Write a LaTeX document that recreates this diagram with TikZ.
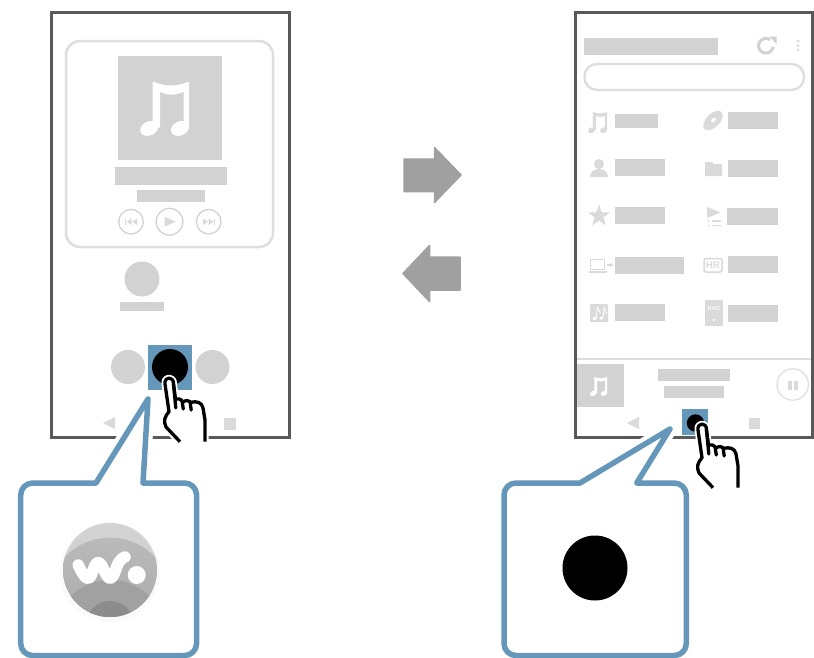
\documentclass[tikz,border=0pt]{standalone}
\usepackage{fontspec}
\setmainfont{Liberation Sans}
\definecolor{frameC}{HTML}{595959}
\definecolor{barC}{HTML}{D2D2D2}
\definecolor{iconC}{HTML}{DADADA}
\definecolor{lineC}{HTML}{DEDEDE}
\definecolor{blueC}{HTML}{6497B9}
\definecolor{arrowC}{HTML}{A0A0A0}
\tikzset{
  phone/.style={draw=frameC,line width=3pt,fill=white},
  bar/.style={fill=barC},
  icon/.style={fill=iconC},
  ctl/.style={draw=barC,line width=1.3pt,fill=white},
  bigarrow/.style={fill=arrowC,draw=arrowC,line width=1.5pt,line join=round},
  callout/.style={draw=blueC,line width=5.5pt,line join=round,fill=white},
  halo/.style={draw=white,line width=14pt,line join=round,fill=white},
  noteicon/.pic={
    \fill[pic actions,line join=round] (13.5,0) .. controls (24,5) and (38,5) .. (48,0) -- (49,1) -- (49,46) -- (43.5,46) -- (43.5,10) .. controls (36,14) and (28,14) .. (20,10) -- (20,46) -- (12.5,46) -- (12.5,1) -- cycle;
    \fill[pic actions] (9.3,46.7) ellipse [x radius=9.5,y radius=7,rotate=25];
    \fill[pic actions] (40,46.7) ellipse [x radius=9.5,y radius=7,rotate=25];
  },
  handicon/.pic={
    \path[draw=white,line width=7pt,fill=white,line join=round]
      (180,441.7) -- (165,427) .. controls (163,421) and (165,416) .. (169,411.7) -- (165,384) .. controls (164,376) and (174,376) .. (173.5,384) -- (175.5,399)
      .. controls (178,398) and (181,399) .. (183,402) .. controls (186,400) and (189,400) .. (191,402.3) .. controls (196,401) and (202,402) .. (203,408) -- (205,420) -- (205,441.7) -- cycle;
    \draw[black,line width=3.3pt,line join=round,fill=white]
      (180,441.7) -- (166,427) .. controls (163,421) and (165,416) .. (169,411.7) -- (165,384) .. controls (164,376) and (174,376) .. (173.5,384) -- (175.5,399)
      .. controls (178,398) and (181,399) .. (183,402) .. controls (186,400) and (189,400) .. (191,402.3) .. controls (196,401) and (202,402) .. (203,408) -- (205,420) -- (205,441.7);
    \draw[black,line width=3.3pt,line cap=round] (173.5,384) -- (175.8,408);
    \draw[black,line width=3.3pt,line cap=round] (182,400.5) -- (183.3,409);
    \draw[black,line width=3.3pt,line cap=round] (190,401.5) -- (191.2,410);
  }
}
\begin{document}
\begin{tikzpicture}[x=1pt,y=-1pt]
\useasboundingbox (0,0) rectangle (814,657);
\fill[white] (0,0) rectangle (814,657);

% ---- left phone
\draw[phone] (51,12) rectangle (289,437);
\draw[draw=lineC,line width=2.5pt,rounded corners=14pt] (66,41) rectangle (273,247);
\fill[bar] (118,56) rectangle (222,160);
\pic[fill=white] at (140,81.7) {noteicon};
\fill[bar] (115,167) rectangle (227,185);
\fill[bar] (137,190) rectangle (205,202);
\draw[ctl] (131,221.7) circle (12.3);
\draw[ctl] (169.5,221.7) circle (13.4);
\draw[ctl] (208.7,221.7) circle (12.3);
\fill[icon] (164.5,216.7) -- (175.7,221.7) -- (164.5,226.7) -- cycle;
\fill[icon] (125,218.5) rectangle (126,225);
\fill[icon] (131.7,218.5) -- (126.7,221.7) -- (131.7,225) -- cycle;
\fill[icon] (137.3,218.5) -- (132.3,221.7) -- (137.3,225) -- cycle;
\fill[icon] (214.3,218.5) rectangle (215.3,225);
\fill[icon] (203,218.5) -- (208,221.7) -- (203,225) -- cycle;
\fill[icon] (208.5,218.5) -- (213.5,221.7) -- (208.5,225) -- cycle;
\fill[bar] (142,279) circle (17.5);
\fill[bar] (120,302) rectangle (164,311);
\fill[bar] (128,367) circle (17);
\fill[bar] (212.5,367) circle (17);
\fill[icon] (115,417) -- (103,423) -- (115,429) -- cycle;
\fill[icon] (224,418) rectangle (236,429.5);

% ---- right phone
\draw[phone] (575,12) rectangle (812,437);
\fill[bar] (584,38) rectangle (718,54.7);
\draw[draw=barC,line width=3pt] (773.2,47) arc (10:305:7.4);
\fill[barC] (769.5,36.5) -- (776.5,36.5) -- (776.5,44) -- cycle;
\foreach \yy in {41,45.7,50} \fill[iconC] (798,\yy) circle (1.5);
\draw[draw=lineC,line width=2.4pt,rounded corners=12.5pt] (584.5,64) rectangle (804,90);
% row 1
\pic[fill=iconC,scale=.39] at (588,112) {noteicon};
\fill[bar] (615,114) rectangle (658,128);
\fill[icon] (713,120.5) ellipse [x radius=12,y radius=6.8,rotate=45];
\fill[white] (713.5,120) ellipse [x radius=2.8,y radius=1.8,rotate=45];
\fill[bar] (728,112) rectangle (778,128.7);
% row 2
\fill[icon] (599,164) circle (5);
\fill[icon] (590,177) .. controls (590,171) and (595,169) .. (599,169) .. controls (603,169) and (608,171) .. (608,177) -- cycle;
\fill[bar] (615,159) rectangle (665,175.7);
\fill[icon] (705,162) -- (712,162) -- (714,164) -- (722,164) -- (722,176) -- (705,176) -- cycle;
\fill[bar] (728,160) rectangle (778,176.7);
% row 3
\fill[icon] (599,204.5) -- (601.7,212.3) -- (609.9,212.4) -- (603.4,217.4) -- (605.8,225.3) -- (599,220.6) -- (592.2,225.3) -- (594.6,217.4) -- (588.1,212.4) -- (596.3,212.3) -- cycle;
\fill[bar] (615,207) rectangle (665,223.7);
\fill[icon] (707,207) -- (720.5,212.5) -- (707,218) -- cycle;
\foreach \yy in {221,225.5} {
  \fill[iconC] (708.5,\yy) circle (1);
  \fill[iconC] (711.5,\yy-.6) rectangle (721,\yy+.6);
}
\fill[bar] (727,208) rectangle (778,224.7);
% row 4
\draw[draw=iconC,line width=.9pt] (590.5,259.5) rectangle (604.5,269.5);
\draw[draw=iconC,line width=1.1pt] (588.5,272) -- (606.5,272);
\fill[icon] (607,264.3) rectangle (610.5,265.7);
\fill[icon] (610.5,262.8) -- (613.5,265) -- (610.5,267.2) -- cycle;
\fill[bar] (615,257) rectangle (684,273.7);
\draw[draw=iconC,line width=1.5pt,rounded corners=2pt] (704,258.5) rectangle (722,272);
\node[inner sep=0pt,text=iconC,font=\bfseries\fontsize{9.5}{10}\selectfont] (hrtag) at (713,265.2) {HR};
\fill[bar] (728,256) rectangle (778,272.7);
% row 5
\fill[icon,rounded corners=1pt] (590,304) rectangle (608,322);
\fill[white] (594.5,318.5) ellipse [x radius=2,y radius=1.5,rotate=25];
\fill[white] (601.5,318) ellipse [x radius=2,y radius=1.5,rotate=25];
\draw[white,line width=.8pt] (596.2,318.3) -- (597.5,307.5) .. controls (598.5,310) and (600,311) .. (600.5,313);
\draw[white,line width=.8pt] (603.2,317.8) -- (604,307.5) .. controls (605,310) and (606.5,311) .. (606.7,314);
\fill[bar] (615,304) rectangle (665,320.7);
\fill[icon] (705,300) rectangle (723,326);
\node[inner sep=0pt,text=white,font=\bfseries\fontsize{5.8}{6}\selectfont] (dactag) at (714,308.5) {DAC};
\fill[white] (714,320) circle (1.3);
\fill[bar] (728,305) rectangle (778,321.7);
% now-playing strip
\draw[draw=lineC,line width=1.2pt] (576.5,359) -- (811,359);
\fill[bar] (577,364) rectangle (624,407);
\pic[fill=white,scale=.35] at (590,377) {noteicon};
\fill[bar] (658,369) rectangle (730,381);
\fill[bar] (664,386) rectangle (724,398);
\draw[draw=lineC,line width=1.2pt] (792.7,384.5) circle (15.7);
\fill[icon] (788.3,380.7) rectangle (791.7,390);
\fill[icon] (794,380.7) rectangle (797.7,390);
\fill[icon] (639,417) -- (627,423) -- (639,429) -- cycle;
\fill[icon] (749,417.5) rectangle (760,429);

% ---- arrows
\path[bigarrow] (404,159) -- (434.5,159) -- (434.5,147.5) -- (461,175) -- (434.5,202.5) -- (434.5,191.5) -- (404,191.5) -- cycle;
\path[bigarrow] (460,257) -- (429.5,257) -- (429.5,245.5) -- (403,273.5) -- (429.5,301.5) -- (429.5,290) -- (460,290) -- cycle;

% ---- callouts
\path[halo] (96,483) -- (148,399) -- (143,483);
\draw[callout,rounded corners=12pt] (20.7,570) -- (20.7,483) -- (70,483) [sharp corners] -- (96,483) -- (148,399) -- (143,483) -- (170,483) [rounded corners=12pt] -- (196.6,483) -- (196.6,655.5) -- (20.7,655.5) -- cycle;
\path[halo] (580,483) -- (670,429) -- (636.7,483);
\draw[callout,rounded corners=12pt] (504,570) -- (504,483) -- (550,483) [sharp corners] -- (580,483) -- (670,429) -- (636.7,483) -- (660,483) [rounded corners=12pt] -- (686.3,483) -- (686.3,655.5) -- (504,655.5) -- cycle;

% walkman logo
\fill[black!2] (110,572) circle (50);
\begin{scope}
  \clip (110,570) circle (47);
  \fill[barC] (60,520) rectangle (160,620);
  \shade[top color=black!27,bottom color=black!36] (110,600.5) circle (62.8);
  \fill[black!37] (110,636) circle (56);
  \fill[black!45] (110,625) circle (24);
\end{scope}
\draw[white,line width=11.5pt,line cap=round,line join=round] plot[smooth,tension=.75] coordinates {(78.3,565) (88.3,578.3) (98.3,562.5) (110,578.3) (119,562) (125,557)};
\fill[white] (136.7,575) circle (9);
\fill[black] (595,568) circle (32.5);

% ---- highlighted buttons and hands
\fill[blueC] (148,345) rectangle (192,390);
\fill[black] (170,367) circle (18);
\fill[blueC] (682,409) rectangle (708,435);
\fill[black] (695.5,423) circle (8.7);
\pic at (0,0) {handicon};
\pic at (533,46) {handicon};
\end{tikzpicture}
\end{document}
